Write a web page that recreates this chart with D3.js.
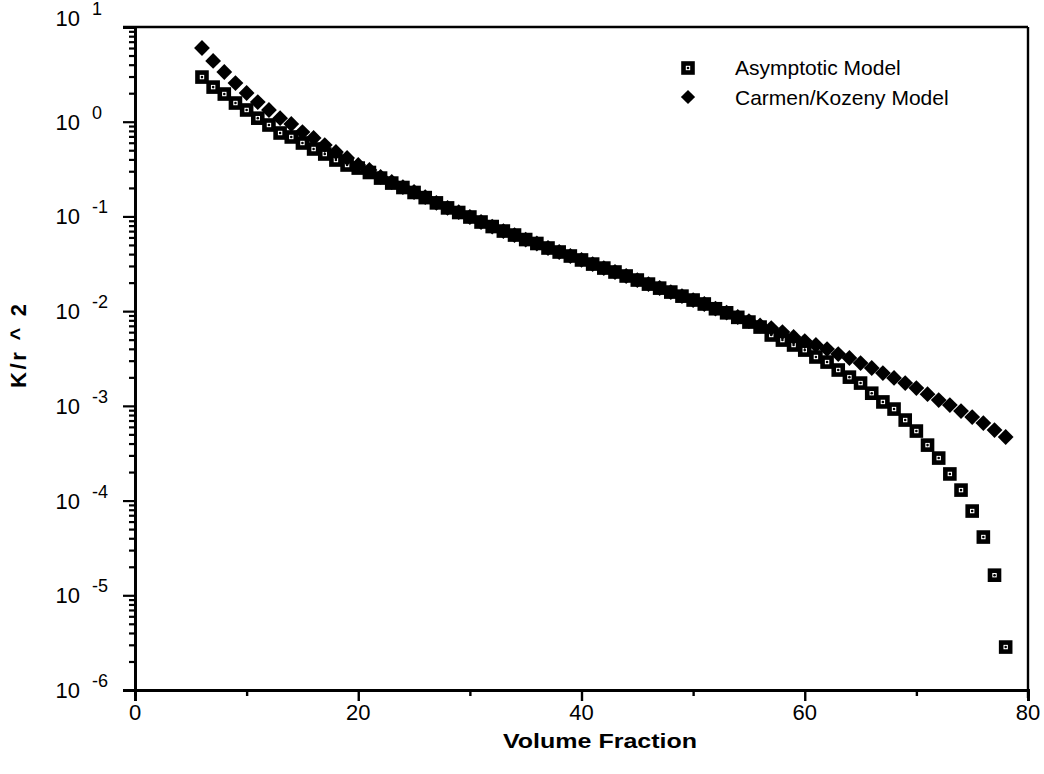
<!DOCTYPE html>
<html>
<head>
<meta charset="utf-8">
<script src="https://cdn.jsdelivr.net/npm/d3@7"></script>
<style>
  html, body { margin: 0; padding: 0; background: #fff; }
  svg { display: block; }
  text { font-family: "Liberation Sans", Arial, Helvetica, sans-serif; fill: #000; }
</style>
</head>
<body>
<svg id="chart" width="1044" height="774"></svg>
<script>
// ---- data ----
const volumeFraction = [6,7,8,9,10,11,12,13,14,15,16,17,18,19,20,21,22,23,24,25,26,27,28,29,30,
  31,32,33,34,35,36,37,38,39,40,41,42,43,44,45,46,47,48,49,50,51,52,53,54,55,56,57,58,59,60,
  61,62,63,64,65,66,67,68,69,70,71,72,73,74,75,76,77,78];

const asymptoticModel = [2.96, 2.32, 1.96, 1.575, 1.33, 1.09, 0.923, 0.760, 0.690, 0.596,
  0.515, 0.456, 0.394, 0.349, 0.324, 0.291, 0.254, 0.225, 0.202, 0.179,
  0.158, 0.139, 0.123, 0.110, 0.0986,
  0.0873, 0.0782, 0.0701, 0.0636, 0.0570, 0.0518, 0.0464, 0.0421, 0.0382, 0.0347,
  0.0314, 0.0285, 0.0259, 0.0235, 0.0213, 0.0193, 0.0175, 0.0159, 0.0144, 0.0131,
  0.0119, 0.0106, 0.0096, 0.0086,
  0.00767, 0.00679, 0.00560, 0.00495, 0.00439,
  0.00388, 0.00328, 0.00290, 0.00239, 0.00201, 0.00174, 0.00136, 0.00110, 0.000925, 0.000708,
  0.000542, 0.000385, 0.000281, 0.000191, 0.000129, 0.0000775, 0.0000412, 0.0000163, 0.00000284];

const carmenKozenyModel = [6.0, 4.38, 3.35, 2.56, 2.01, 1.61, 1.33, 1.09, 0.946, 0.778,
  0.673, 0.567, 0.479, 0.414, 0.349, 0.309, 0.261, 0.231, 0.204, 0.181,
  0.160, 0.139, 0.123, 0.111, 0.0986, 0.0873, 0.0782, 0.0701, 0.0636, 0.0570,
  0.0518, 0.0464, 0.0421, 0.0382, 0.0347, 0.0314, 0.0285, 0.0259, 0.0235, 0.0213,
  0.0193, 0.01754, 0.01591, 0.01443, 0.01310, 0.01189, 0.01065, 0.00966, 0.00867, 0.00786,
  0.00705, 0.00663, 0.00601, 0.00533, 0.00483, 0.00439, 0.00398, 0.00352, 0.00320, 0.00283,
  0.00251, 0.00222, 0.00197, 0.00174, 0.00154, 0.00133, 0.00115, 0.00102, 0.000881, 0.000762,
  0.000658, 0.000555, 0.000469];

const xTicks = [0, 20, 40, 60, 80];
const xMinorTicks = [10, 30, 50, 70];
const yExponents = [1, 0, -1, -2, -3, -4, -5, -6];
const seriesNames = ["Asymptotic Model", "Carmen/Kozeny Model"];
const xTitle = "Volume Fraction";
const yTitle = "K/r ^ 2";

// ---- layout ----
const svg = d3.select("#chart");
const L = 135, R = 1028, T = 27, B = 690;

const x = d3.scaleLinear().domain([0, 80]).range([L, R]);
const y = d3.scaleLog().domain([1e-6, 10]).range([B, T]);

const yMajor = yExponents.map(e => Math.pow(10, e));
const yMinor = [];
yExponents.slice(1).forEach(e => {
  for (let k = 2; k <= 9; k++) yMinor.push(k * Math.pow(10, e));
});

// frame (top and right)
svg.append("line").attr("x1", L - 12).attr("x2", R).attr("y1", T).attr("y2", T)
  .attr("stroke", "#000").attr("stroke-width", 2.4);
svg.append("line").attr("x1", R).attr("x2", R).attr("y1", T).attr("y2", B + 8)
  .attr("stroke", "#000").attr("stroke-width", 2.4);

// y axis
const gy = svg.append("g").attr("transform", `translate(${L},0)`);
gy.call(d3.axisLeft(y).tickValues(yMinor).tickSize(6).tickFormat(""));
gy.call(g => g.append("g").call(d3.axisLeft(y).tickValues(yMajor).tickSize(12).tickFormat("")));
gy.selectAll(".domain").attr("stroke-width", 2.8);
gy.selectAll(".tick line").attr("stroke-width", 2.2);

// x axis
const gx = svg.append("g").attr("transform", `translate(0,${B})`);
gx.call(d3.axisBottom(x).tickValues(xMinorTicks).tickSize(6).tickFormat(""));
gx.call(g => g.append("g").call(d3.axisBottom(x).tickValues(xTicks).tickSize(11).tickFormat("")));
gx.selectAll(".domain").attr("stroke-width", 2.8);
gx.selectAll(".tick line").attr("stroke-width", 2.4);

// x tick labels
svg.append("g").selectAll("text").data(xTicks).join("text")
  .attr("x", d => x(d)).attr("y", B + 30)
  .attr("text-anchor", "middle").attr("font-size", 22)
  .text(d => d);

// y tick labels with exponents
const yl = svg.append("g").selectAll("g").data(yExponents).join("g")
  .attr("transform", (d, i) => `translate(0,${y(Math.pow(10, d)) + (i === 0 ? -1 : 8)})`);
yl.append("text").attr("x", 80).attr("y", 0).attr("text-anchor", "end")
  .attr("font-size", 22).text("10");
yl.append("text").attr("x", 92).attr("y", -11).attr("text-anchor", "start")
  .attr("font-size", 18).text(d => d);

// axis titles
svg.append("text").attr("x", 600).attr("y", 748).attr("text-anchor", "middle")
  .attr("font-size", 21).attr("font-weight", "bold")
  .attr("textLength", 194).attr("lengthAdjust", "spacingAndGlyphs")
  .text(xTitle);
svg.append("text").attr("transform", "translate(26,346) rotate(-90)")
  .attr("text-anchor", "middle").attr("font-size", 22).attr("font-weight", "bold")
  .attr("textLength", 84).attr("lengthAdjust", "spacing")
  .attr("xml:space", "preserve")
  .text(yTitle);

// markers
function drawSquare(g) {
  g.append("rect").attr("x", -4.5).attr("y", -4.5).attr("width", 9).attr("height", 9)
    .attr("fill", "#fff").attr("stroke", "#000").attr("stroke-width", 4.6);
  g.append("circle").attr("r", 1.3).attr("fill", "#000");
}
const diamondPath = d3.symbol().type(d3.symbolSquare).size(125)();

const asymData = volumeFraction.map((v, i) => ({ x: v, y: asymptoticModel[i] }));
const ckData = volumeFraction.map((v, i) => ({ x: v, y: carmenKozenyModel[i] }));

svg.append("g").selectAll("g").data(asymData).join("g")
  .attr("transform", d => `translate(${x(d.x)},${y(d.y)})`)
  .each(function () { drawSquare(d3.select(this)); });

svg.append("g").selectAll("path").data(ckData).join("path")
  .attr("d", diamondPath)
  .attr("transform", d => `translate(${x(d.x)},${y(d.y)}) rotate(45)`)
  .attr("fill", "#000");

// legend
const lg = svg.append("g");
drawSquare(lg.append("g").attr("transform", "translate(688,68)"));
lg.append("path").attr("d", diamondPath).attr("transform", "translate(688,97) rotate(45) scale(0.9)").attr("fill", "#000");
lg.selectAll("text").data(seriesNames).join("text")
  .attr("x", 735).attr("y", (d, i) => 75 + i * 30)
  .attr("font-size", 21).text(d => d);
</script>
</body>
</html>
